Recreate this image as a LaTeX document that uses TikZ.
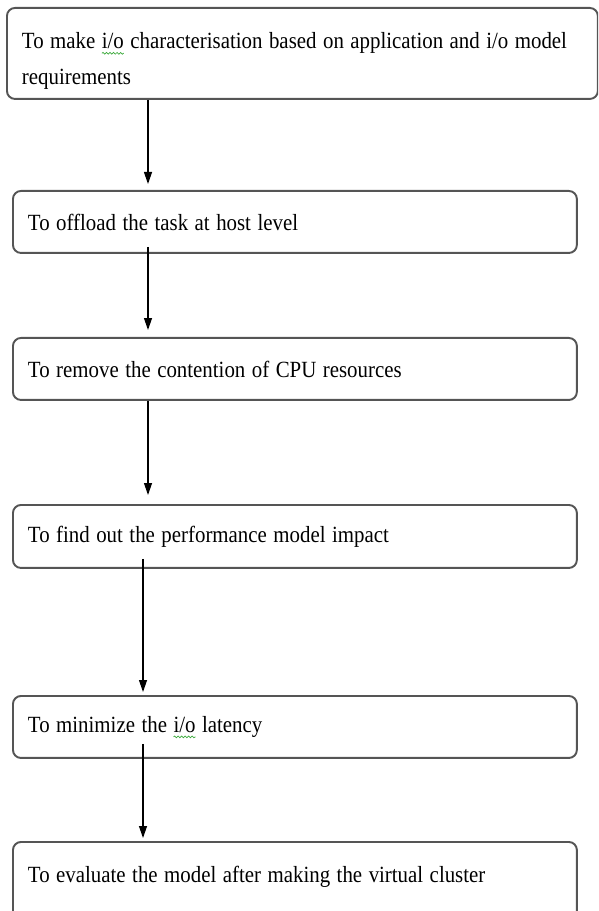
\documentclass[tikz,border=0pt]{standalone}
\usepackage{fontspec}
\setmainfont[FakeStretch=0.9]{Liberation Serif}
\usepackage{tikz}
\definecolor{boxline}{RGB}{85,85,85}
\definecolor{spellgreen}{RGB}{60,170,60}
\usetikzlibrary{arrows.meta,decorations.pathmorphing}

\DeclareRobustCommand\tightspaces{\spaceskip=0.28em plus 0.05em\relax\xspaceskip=\spaceskip}
\newlength\wavylen
\newcommand\wavyword[1]{\settowidth{\wavylen}{#1}%
    \rlap{\tikz[overlay]\draw[spellgreen,line width=0.4pt,sharp corners,decorate,
        decoration={snake,amplitude=0.5pt,segment length=2pt}] (0pt,-2.5pt) -- (\wavylen,-2.5pt);}#1}

\tikzset{
    stepbox/.style={draw=boxline, line width=1.1pt, rounded corners=0.16cm, anchor=north west,
        align=left, inner xsep=0.3cm, inner ysep=0pt, text width=10.68cm, minimum height=1.24cm,
        font=\fontsize{13.2}{20}\selectfont, execute at begin node=\tightspaces},
    flow/.style={-{Triangle[length=0.24cm,width=0.16cm]}, line width=0.7pt}
}

\begin{document}
\begin{tikzpicture}[x=0.02cm,y=-0.02cm]
        \clip (0,0) rectangle (598,911);

        \node[stepbox, text width=11.22cm, minimum height=0pt, text height=0.82cm, text depth=1.0cm]
            (make) at (6,7)
            {To make \wavyword{i/o} characterisation based on application and i/o model\\requirements};
        \node[stepbox] (offload) at (12,190) {To offload the task at host level};
        \node[stepbox] (remove) at (12,337) {To remove the contention of CPU resources};
        \node[stepbox, minimum height=1.26cm] (impact) at (12,504) {To find out the performance model impact};
        \node[stepbox] (latency) at (12,695) {To minimize the \wavyword{i/o} latency};
        \node[stepbox, minimum height=0pt, inner ysep=0.1cm, text height=0.72cm, text depth=0.8cm]
            (evaluate) at (12,841) {To evaluate the model after making the virtual cluster};

        \coordinate (upper) at (148,0);
        \coordinate (lower) at (143,0);
        \draw[flow, shorten >=0.12cm] (make.south -| upper) -- (offload.north -| upper);
        \draw[flow, shorten <=-0.14cm, shorten >=0.14cm] (offload.south -| upper) -- (remove.north -| upper);
        \draw[flow, shorten >=0.18cm] (remove.south -| upper) -- (impact.north -| upper);
        \draw[flow, shorten <=-0.2cm, shorten >=0.06cm] (impact.south -| lower) -- (latency.north -| lower);
        \draw[flow, shorten <=-0.3cm, shorten >=0.06cm] (latency.south -| lower) -- (evaluate.north -| lower);
    \end{tikzpicture}
\end{document}
